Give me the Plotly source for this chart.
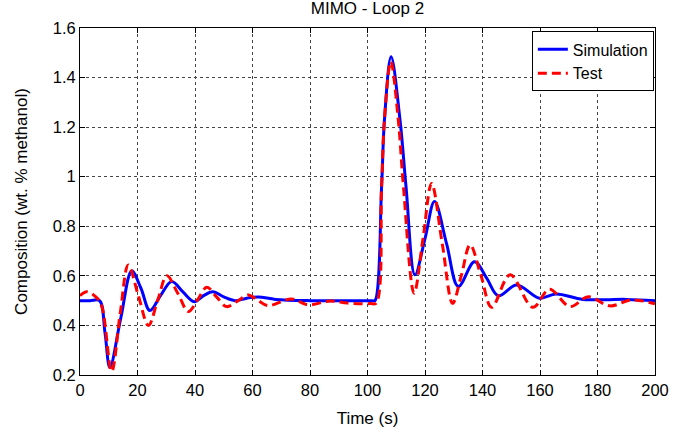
import plotly.graph_objects as go

# Simulation (blue)
sim_t = [0, 3.5, 6.8, 8.7, 10.4, 14.2, 18.0, 21.2, 24.3, 28.0, 31.9, 35.8, 39.7, 43.0, 46.2, 50.0,
         53.9, 58.0, 62.0, 68.0, 80.0, 92.0, 101.6, 102.6, 104.9, 105.9, 108.2, 111.3, 113.4, 116.5,
         120.0, 123.3, 127.5, 131.6, 137.2, 141.5, 145.5, 151.9, 159.8, 165.6, 175.0, 190.0, 200.0]
sim_v = [0.5, 0.5, 0.5, 0.37, 0.23, 0.43, 0.62, 0.55, 0.46, 0.52, 0.577, 0.535, 0.496, 0.52, 0.536, 0.515,
         0.50, 0.51, 0.515, 0.505, 0.50, 0.50, 0.50, 0.50, 0.96, 1.23, 1.484, 1.23, 0.96, 0.604,
         0.75, 0.90, 0.73, 0.557, 0.657, 0.59, 0.52, 0.563, 0.51, 0.527, 0.505, 0.505, 0.50]

# Test (red)
test_t = [0, 2.3, 5.5, 7.5, 11.0, 14.0, 16.8, 20.3, 23.8, 27.0, 30.2, 34.0, 37.7, 41.0, 44.1,
          47.5, 51.0, 55.0, 58.5, 62.0, 65.4, 73.6, 79.3, 87.0, 93.0, 101.0, 103.0, 104.9, 105.9,
          108.1, 110.7, 112.5, 116.2, 119.3, 122.3, 126.0, 129.6, 132.6, 135.7, 139.5, 143.2,
          149.6, 157.5, 163.3, 170.4, 176.8, 184.3, 191.9, 200.0]
test_v = [0.52, 0.536, 0.515, 0.48, 0.214, 0.45, 0.644, 0.52, 0.40, 0.50, 0.60, 0.53, 0.456, 0.505, 0.554,
          0.515, 0.476, 0.50, 0.523, 0.50, 0.48, 0.507, 0.483, 0.499, 0.49, 0.488, 0.49, 0.96, 1.23,
          1.464, 1.23, 0.96, 0.53, 0.75, 0.973, 0.73, 0.489, 0.60, 0.725, 0.60, 0.473,
          0.604, 0.473, 0.546, 0.476, 0.516, 0.479, 0.503, 0.487]

x_ticks = [0, 20, 40, 60, 80, 100, 120, 140, 160, 180, 200]
y_ticks = [0.2, 0.4, 0.6, 0.8, 1.0, 1.2, 1.4, 1.6]
y_tick_labels = ["0.2", "0.4", "0.6", "0.8", "1", "1.2", "1.4", "1.6"]

FONT = "Liberation Sans, Arial, sans-serif"

fig = go.Figure()
fig.add_trace(go.Scatter(x=sim_t, y=sim_v, mode="lines", name="Simulation",
                         line=dict(color="#0000ff", width=3, shape="spline", smoothing=1.0)))
fig.add_trace(go.Scatter(x=test_t, y=test_v, mode="lines", name="Test",
                         line=dict(color="#ff0000", width=3, dash="9px,5px", shape="spline", smoothing=1.0)))

axis_common = dict(showline=True, linecolor="black", linewidth=1, mirror="allticks",
                   ticks="inside", ticklen=5, tickcolor="black",
                   showgrid=True, gridcolor="#444444", griddash="dot", gridwidth=1,
                   zeroline=False, tickfont=dict(family=FONT, size=16.5, color="black"))

fig.update_xaxes(range=[0, 200], tickvals=x_ticks,
                 title=dict(text="Time (s)", font=dict(family=FONT, size=17, color="black"), standoff=14),
                 **axis_common)
fig.update_yaxes(range=[0.2, 1.6], tickvals=y_ticks, ticktext=y_tick_labels,
                 title=dict(text="Composition (wt. % methanol)", font=dict(family=FONT, size=17, color="black"), standoff=20),
                 **axis_common)

fig.update_layout(
    width=699, height=436,
    margin=dict(l=80, r=44, t=28, b=61),
    paper_bgcolor="white", plot_bgcolor="white",
    font=dict(family=FONT, size=17, color="black"),
    title=dict(text="MIMO - Loop 2", xref="paper", x=0.5, xanchor="center",
               yref="container", y=0.995, yanchor="top",
               font=dict(family=FONT, size=17, color="black")),
    showlegend=True,
    legend=dict(x=0.998, y=0.99, xanchor="right", yanchor="top",
                bgcolor="white", bordercolor="black", borderwidth=1,
                font=dict(family=FONT, size=16, color="black"), tracegroupgap=0, itemwidth=30),
)

fig.write_html("out.html", config={"displayModeBar": False},
               post_script="document.body.style.margin='0';")
